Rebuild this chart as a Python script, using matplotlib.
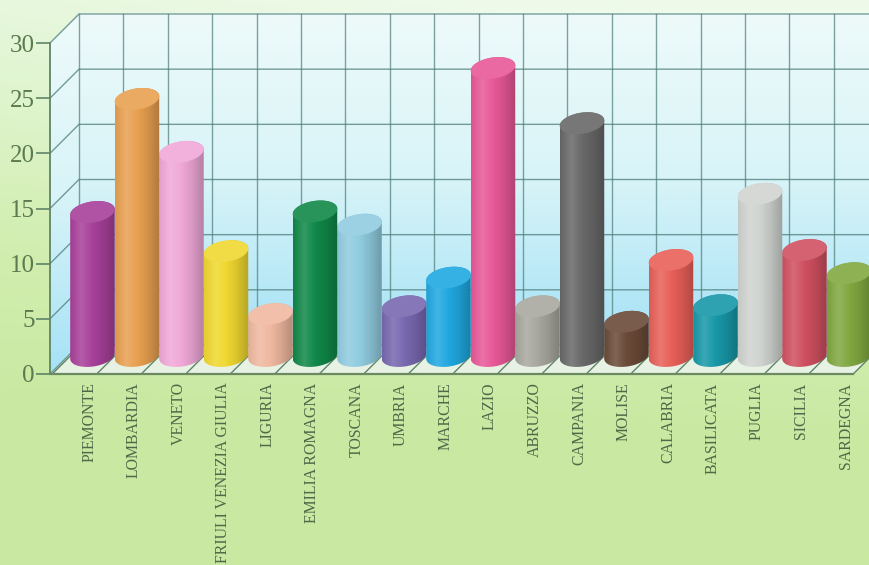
import numpy as np
import matplotlib
matplotlib.use("Agg")
import matplotlib.pyplot as plt
from matplotlib.colors import to_rgb, LinearSegmentedColormap
from matplotlib.patches import Polygon, PathPatch
from matplotlib.path import Path

regions = ["PIEMONTE", "LOMBARDIA", "VENETO", "FRIULI VENEZIA GIULIA", "LIGURIA",
           "EMILIA ROMAGNA", "TOSCANA", "UMBRIA", "MARCHE", "LAZIO", "ABRUZZO",
           "CAMPANIA", "MOLISE", "CALABRIA", "BASILICATA", "PUGLIA", "SICILIA", "SARDEGNA"]
values = [13.05, 23.3, 18.5, 9.5, 3.8, 13.1, 11.9, 4.5, 7.1,
          26.1, 4.5, 21.1, 3.1, 8.7, 4.6, 14.7, 9.6, 7.5]
colors = ["#a8409a", "#e8a050", "#f0a8d8", "#f0d830", "#f0b8a0", "#108848",
          "#90cce0", "#7868b0", "#20a8e0", "#e85898", "#a8a8a0", "#686868",
          "#6a4a38", "#e86058", "#1898a8", "#d0d4d0", "#d05060", "#80a840"]
y_ticks = [0, 5, 10, 15, 20, 25, 30]

W, H = 870, 565
fig = plt.figure(figsize=(W / 100, H / 100), dpi=100)

# background wash
bg = fig.add_axes([0, 0, 1, 1], zorder=0)
bg.axis("off")
bg_cmap = LinearSegmentedColormap.from_list("bg", ["#eefaea", "#e0f5d0", "#d2eeb0", "#c9e9a2", "#c9e9a2"])
g = np.linspace(0, 1, 200)[:, None] + 0.25 * (0.5 - np.linspace(0, 1, 200)[None, :]) * np.linspace(1, 0, 200)[:, None]
bg.imshow(np.clip(g, 0, 1), cmap=bg_cmap, aspect="auto", extent=[0, 1, 0, 1], vmin=0, vmax=1)

# axes: 0 of y at pixel row 374, 30 at 43; x unit 44.5 px starting from pixel 50
px_x, px_y = 44.5, 331 / 30
left, right, bottom, top = 50, 870, 374, 43
ax = fig.add_axes([left / W, 1 - bottom / H, (right - left) / W, (bottom - top) / H], zorder=1)
ax.patch.set_alpha(0)
xmax = (right - left) / px_x
ax.set_xlim(0, xmax)
ax.set_ylim(0, 30)
for s in ax.spines.values():
    s.set_visible(False)
n = len(regions)
dx, dy = 29 / px_x, 29 / px_y     # depth of the box
front_end = 803 / px_x
line_c = "#4c7c78"
frame_c = "#5f8468"

# back wall, gradient pale to sky blue
wall_cmap = LinearSegmentedColormap.from_list("wall", ["#eefafa", "#d8f4f8", "#a6e2f6"])
wall = ax.imshow(np.linspace(0, 1, 100)[:, None], cmap=wall_cmap, aspect="auto",
                 extent=[dx, xmax, dy, 30 + dy], zorder=1)
wall.set_clip_on(False)
side = Polygon([(0, 0), (dx, dy), (dx, 30 + dy), (0, 30)], closed=True, fc="none", ec="none",
               zorder=1, clip_on=False)
ax.add_patch(side)
side_im = ax.imshow(np.linspace(0, 1, 100)[:, None], cmap=wall_cmap, aspect="auto",
                    extent=[0, dx, 0, 30 + dy], zorder=1.1)
side_im.set_clip_box(fig.bbox)
side_im.set_clip_path(side)
ax.add_patch(Polygon([(0, 0), (dx, dy), (front_end + dx, dy), (front_end, 0)], closed=True,
                     fc="#e8f2e4", ec="none", zorder=1, clip_on=False))

# grid
for v in y_ticks:
    ax.plot([0, dx, xmax], [v, v + dy, v + dy], color=line_c, lw=1.0, zorder=2, clip_on=False, alpha=0.75)
for i in range(n + 1):
    ax.plot([i * 44.4 / px_x + dx] * 2, [dy, 30 + dy], color=line_c, lw=1.0, zorder=2, clip_on=False, alpha=0.7)
    ax.plot([i + 0.05, i + 0.05 + dx], [0, dy], color=frame_c, lw=1.0, zorder=2, clip_on=False)
ax.plot([0, 0], [0, 30], color=frame_c, lw=1.3, zorder=3, clip_on=False)
ax.plot([0, front_end], [0, 0], color="#6b8a62", lw=1.6, zorder=3, clip_on=False)

# cylinders
centers = [i + 0.955 for i in range(n)]
base = (374 - 356) / px_y
a_px, b_px, theta = 22.5, 10.5, np.deg2rad(9)
t = np.linspace(0, 2 * np.pi, 181)[:-1]
ex = (a_px * np.cos(t) * np.cos(theta) - b_px * np.sin(t) * np.sin(theta)) / px_x
ey = (a_px * np.cos(t) * np.sin(theta) + b_px * np.sin(t) * np.cos(theta)) / px_y
i_r, i_l = int(np.argmax(ex)), int(np.argmin(ex))
ex_r = np.roll(ex, -i_r)
ey_r = np.roll(ey, -i_r)
k = (i_l - i_r) % len(ex)
upper = (ex_r[:k + 1], ey_r[:k + 1])          # right to left via the top
lower = (ex_r[k:], ey_r[k:])                  # left to right via the bottom


def shade(c):
    c = np.array(to_rgb(c))
    white, black = np.ones(3), np.zeros(3)
    return LinearSegmentedColormap.from_list("s", [
        c * 0.95, c * 0.85 + white * 0.15, c, c * 0.9 + black * 0.1, c * 0.76 + black * 0.24])


for i, (cx, v, col) in enumerate(zip(centers, values, colors)):
    z = 10 + (n - i)
    ytop = base + v
    xs = np.r_[cx + lower[0], cx + upper[0]]
    ys = np.r_[base + lower[1], ytop + upper[1]]
    body = PathPatch(Path(np.c_[xs, ys]), transform=ax.transData, fc="none", ec="none")
    im = ax.imshow(np.linspace(0, 1, 64)[None, :], cmap=shade(col), aspect="auto",
                   extent=[cx + ex.min(), cx + ex.max(), base - 2, ytop + 2], zorder=z)
    im.set_clip_path(body)
    c = np.array(to_rgb(col))
    ax.add_patch(Polygon(np.c_[cx + ex, ytop + ey], closed=True, fc=c * 0.9 + 0.1, ec="none",
                         zorder=z + 0.5, clip_on=False))

ax.set_xlim(0, xmax)
ax.set_ylim(0, 30)

serif = "Liberation Serif"
ax.set_yticks(y_ticks)
ax.set_yticklabels([str(v) for v in y_ticks], family=serif, fontsize=18, color="#5c7a50")
ax.tick_params(axis="y", length=10, width=1.2, color=frame_c, pad=1)
ax.set_xticks([c - 0.07 for c in centers])
ax.set_xticklabels(regions, rotation=90, family=serif, fontsize=11.4, color="#4c6a48", va="top", ha="center")
ax.tick_params(axis="x", length=0, pad=6)

fig.savefig("out.png", dpi=100)
